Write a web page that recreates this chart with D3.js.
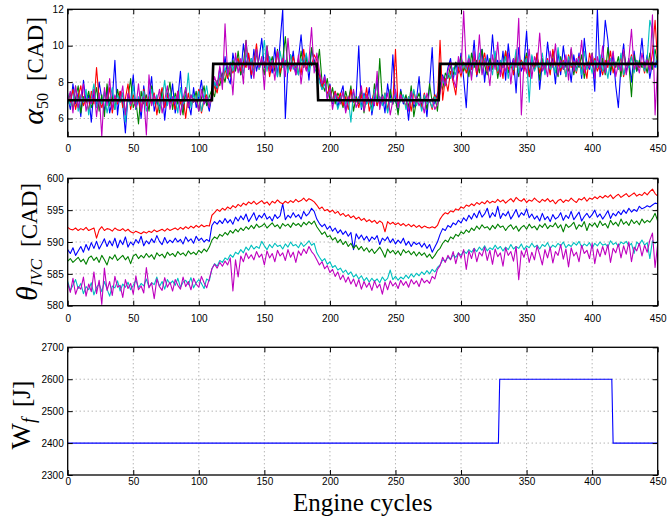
<!DOCTYPE html>
<html><head><meta charset="utf-8">
<script src="https://cdn.jsdelivr.net/npm/d3@7"></script>
<style>body{margin:0;background:#fff}svg{display:block}</style>
</head><body><svg id="c" width="670" height="516"></svg>
<script>
// ---------- data ----------
const cycles = d3.range(0, 451, 2);
const xTicks = [0,50,100,150,200,250,300,350,400,450];
const alphaTicks = [6,8,10,12];
const thetaTicks = [580,585,590,595,600];
const wfTicks = [2300,2400,2500,2600,2700];

const refCycles = [0,110,111,190,191,283,284,450];
const refAlpha  = [7,7,9,9,7,7,9,9];
const wfCycles  = [0,328.5,329.5,415,416,450];
const wfValues  = [2400,2400,2600,2600,2400,2400];

const alphaBlue = [
7.2,6.5,7.9,6.8,7.4,6.1,8.1,6.9,7.3,5.8,
7.6,6.6,8.0,7.1,6.4,7.7,6.3,7.0,9.2,6.2,
7.5,6.8,5.2,7.3,6.9,8.4,6.5,7.1,6.0,7.8,
6.7,7.2,8.3,6.4,7.0,6.6,7.6,5.9,7.4,6.8,
7.9,6.3,7.1,8.6,6.5,7.3,6.9,6.2,7.7,6.6,
7.2,8.1,6.8,7.0,6.4,
7.3,8.0,7.6,8.8,8.1,9.4,8.3,7.9,9.6,8.7,
9.2,8.4,10.1,8.9,9.5,8.2,9.8,8.6,9.3,10.4,
8.8,9.6,9.1,8.5,9.9,8.3,10.2,12.0,6.0,9.0,
8.7,9.7,8.4,9.3,10.6,8.9,9.5,8.1,9.8,9.2,
8.9,8.2,7.6,8.4,7.1,7.9,6.8,7.5,6.6,7.3,
7.8,6.4,7.0,7.6,6.9,7.2,10.0,6.5,7.4,6.8,
7.7,6.2,7.1,8.1,6.7,7.3,6.3,7.9,6.9,9.5,
7.0,6.4,7.6,6.8,7.2,5.9,7.5,6.6,7.0,8.3,
6.5,7.3,6.1,7.8,9.9,6.8,7.4,
7.6,8.4,7.9,8.8,9.3,8.1,9.0,8.5,9.6,8.2,
6.6,9.4,8.7,10.3,8.3,9.1,9.8,8.0,9.5,8.6,
10.6,8.9,9.2,8.4,9.7,8.1,10.1,8.8,9.3,7.4,
9.9,8.6,9.0,10.8,8.3,9.4,8.7,9.6,7.6,9.1,
8.5,10.2,8.9,9.3,7.9,9.7,8.4,10.0,8.8,9.2,
8.0,9.5,8.6,9.6,8.2,10.4,9.0,8.7,9.4,7.5,
12.0,8.3,9.1,11.4,10.3,8.4,9.6,7.8,6.6,8.9,
10.1,8.5,9.3,8.0,9.7,8.6,9.0,10.4,8.7,9.5,
8.2,9.1,8.8,9.4];
const alphaGreen = [
6.8,7.4,6.5,7.1,7.8,6.3,7.2,6.9,7.5,6.6,
7.0,7.7,6.4,7.3,6.1,7.9,6.7,7.2,6.5,7.6,
6.9,7.4,6.2,7.1,8.2,6.6,7.0,5.7,7.5,6.8,
7.3,6.4,7.8,6.9,7.1,6.3,7.6,6.7,7.2,8.0,
6.5,7.4,6.8,7.0,6.2,7.7,6.6,7.3,6.9,7.5,
6.4,7.1,7.8,6.7,7.2,
7.6,7.2,8.1,7.8,8.5,8.0,8.9,8.3,9.2,8.6,
9.7,8.4,9.0,10.3,8.7,9.3,8.5,9.6,8.9,9.1,
8.4,10.0,8.8,9.4,8.6,9.8,8.3,9.2,10.5,8.7,
9.5,8.9,9.0,8.4,9.7,8.8,9.3,8.6,9.9,9.1,
8.7,9.8,8.0,7.5,8.2,7.0,7.7,6.8,7.4,7.1,
6.6,7.5,6.9,7.8,6.4,7.2,6.8,7.6,6.3,7.3,
7.0,6.5,7.9,6.7,9.3,6.9,7.2,6.4,7.6,6.8,
7.1,6.2,7.5,6.9,7.3,6.6,7.8,6.1,7.0,7.4,
6.7,7.2,6.5,7.9,6.9,7.3,6.4,
8.0,7.6,8.5,8.2,8.9,8.4,9.1,8.7,9.4,8.6,
9.0,8.3,9.6,8.8,9.2,8.5,9.8,8.9,8.4,9.3,
8.7,9.5,8.2,9.1,8.8,9.7,8.5,9.0,8.6,9.4,
8.3,9.2,8.9,9.6,8.4,9.0,8.7,9.5,8.1,9.3,
8.8,9.1,8.5,9.7,8.9,8.3,9.4,8.7,9.0,8.6,
9.8,8.4,9.2,8.8,9.5,8.2,9.1,8.9,9.6,8.5,
9.0,8.7,9.3,8.4,9.9,8.6,9.1,8.8,9.4,8.3,
9.7,8.9,9.0,7.2,9.5,8.6,9.2,8.8,9.1,8.5,
9.6,8.7,9.8,9.0];
const alphaRed = [
7.3,6.9,7.6,6.5,7.2,7.8,6.7,7.1,6.4,7.5,
6.8,8.8,7.0,6.6,7.4,6.9,7.7,6.3,7.2,6.8,
7.5,6.6,7.1,7.9,6.5,7.3,6.9,7.0,6.4,7.6,
6.7,7.2,6.8,7.4,6.2,7.1,7.7,6.6,7.3,6.9,
7.0,6.5,7.5,6.8,7.2,6.0,7.4,6.7,7.1,6.9,
7.6,6.3,7.0,7.3,6.8,
7.0,7.8,7.4,8.3,7.9,8.7,8.2,9.0,8.5,8.9,
9.3,8.6,9.1,8.8,9.6,8.4,9.0,10.1,8.7,9.2,
8.9,9.5,8.3,9.1,8.8,9.7,8.5,9.3,8.9,9.0,
8.6,9.4,8.8,9.2,8.4,9.8,8.7,9.1,8.9,9.5,
9.2,8.4,7.7,8.1,7.3,7.8,6.9,7.5,7.0,7.4,
6.7,7.2,6.5,7.6,6.9,7.1,6.6,7.3,6.8,7.7,
6.4,7.0,7.5,6.7,7.2,6.9,7.4,6.5,7.1,6.8,
9.8,6.6,7.3,7.0,6.7,7.2,6.4,7.5,6.9,7.1,
6.6,7.4,6.8,7.0,6.5,7.3,7.0,
10.3,7.0,8.2,7.5,8.6,8.0,7.3,8.8,8.3,9.1,
8.5,9.0,8.7,9.4,8.4,9.2,8.9,9.6,8.6,9.0,
8.8,9.3,8.5,9.1,8.2,9.7,8.7,9.0,8.4,9.5,
8.9,9.2,8.6,9.4,8.3,9.0,8.8,9.6,8.5,9.1,
8.7,9.3,8.4,9.8,8.9,9.0,8.6,9.2,8.3,9.5,
8.8,9.1,8.5,9.4,8.7,9.0,8.2,9.6,8.9,9.3,
8.6,9.0,8.4,9.2,8.8,9.7,8.5,9.1,8.7,9.4,
8.3,9.0,8.9,9.5,8.6,9.2,8.8,9.1,8.5,9.3,
8.7,9.6,11.4,9.0];
const alphaCyan = [
7.4,6.7,7.0,7.8,6.4,7.3,6.9,7.6,6.2,7.1,
7.9,6.6,7.2,6.8,7.5,6.3,7.0,7.7,6.5,7.3,
6.9,7.4,5.8,7.1,6.7,7.8,6.6,7.2,6.9,7.5,
6.4,7.0,7.6,6.8,7.3,6.5,7.1,8.1,6.7,7.4,
6.9,7.2,6.3,7.7,6.8,7.0,8.5,6.6,7.3,6.9,
7.5,6.4,7.1,7.8,6.7,
7.2,8.0,7.7,8.4,8.1,8.8,8.4,9.1,8.6,9.4,
8.9,9.0,8.5,9.6,8.8,9.3,8.4,9.8,8.7,9.1,
10.3,8.6,9.4,8.9,9.0,8.3,9.7,8.8,9.2,8.5,
9.5,8.7,9.0,8.4,9.3,8.9,9.6,8.6,9.1,8.8,
8.5,8.0,7.6,7.9,7.2,7.6,6.9,7.3,6.5,7.0,
7.4,6.8,7.1,5.8,7.5,6.9,7.2,6.6,7.3,6.8,
7.0,6.4,7.6,6.9,7.2,6.7,7.4,6.3,7.1,6.8,
7.5,6.6,7.0,7.3,6.5,7.2,6.9,7.6,6.7,7.1,
6.4,7.3,6.8,7.0,6.6,7.2,6.9,
7.6,8.1,7.8,8.5,8.2,8.8,8.4,9.2,8.6,9.0,
8.7,9.5,8.3,9.1,8.8,9.6,8.5,9.3,8.9,9.0,
8.4,9.7,8.6,9.2,8.8,9.4,8.2,9.0,8.7,9.8,
8.5,9.1,8.9,9.3,6.9,9.5,8.6,9.0,8.8,9.6,
8.4,9.2,8.7,9.0,8.5,9.9,8.8,9.1,8.3,9.4,
8.9,9.0,8.6,9.3,8.4,9.7,8.7,9.1,8.5,9.2,
8.8,9.5,8.6,9.0,8.2,9.3,8.9,9.1,8.7,9.6,
8.4,9.0,8.8,9.4,8.5,9.2,8.9,9.0,8.6,9.3,
11.4,10.8,9.1,8.7];
const alphaMagenta = [
6.9,7.5,6.3,7.8,6.6,7.2,7.9,6.4,7.1,6.8,
7.6,6.1,7.4,5.0,7.7,6.7,8.2,6.5,7.3,6.9,
7.0,7.8,6.2,7.4,6.8,7.1,6.6,7.9,6.4,7.2,
5.1,8.4,6.7,7.3,6.9,7.6,6.3,7.0,7.8,6.5,
7.2,6.8,7.5,6.2,7.1,7.7,6.6,7.3,6.9,7.0,
6.4,7.6,6.8,7.2,6.6,
7.5,8.3,7.8,8.9,7.6,11.2,8.4,9.0,7.3,9.6,
8.5,9.3,7.9,10.3,8.7,9.1,8.2,9.8,8.8,9.4,
7.6,10.0,8.6,9.2,8.1,9.7,8.9,9.3,8.3,10.4,
8.7,9.0,8.4,9.5,7.9,9.1,8.6,9.2,11.0,8.5,
9.6,8.6,7.9,8.3,7.0,7.7,6.5,7.4,7.1,6.8,
7.5,6.3,7.2,6.9,7.6,6.6,7.0,7.8,6.4,7.3,
6.9,7.1,6.7,8.6,6.5,7.2,6.8,7.4,6.2,7.0,
7.6,6.6,7.3,6.9,7.1,6.4,7.5,6.8,7.2,6.7,
7.0,6.3,7.4,6.9,7.1,6.5,6.8,
7.4,8.3,7.8,8.6,9.1,8.2,7.7,9.4,8.5,11.9,
8.8,9.3,8.1,9.7,8.6,10.6,8.4,9.2,8.9,7.8,
9.5,8.7,10.2,8.3,9.0,8.6,9.6,7.9,9.3,8.8,
11.5,6.2,9.1,8.5,9.8,8.2,9.4,8.9,10.7,8.6,
9.0,8.3,9.7,8.8,10.1,8.4,9.2,8.7,9.5,8.1,
9.9,8.6,9.3,8.9,10.3,8.5,9.1,8.8,9.6,8.2,
9.4,8.7,10.0,8.5,9.2,8.9,9.7,8.3,9.0,8.6,
9.8,8.4,9.3,10.9,8.7,9.1,8.5,9.6,8.8,9.2,
8.6,11.7,6.2,9.0];

const thetaRed = [
592.3,592.0,591.9,592.2,591.8,592.1,591.9,592.3,591.8,592.0,
592.2,590.6,591.9,592.4,591.8,592.1,592.0,591.7,592.2,591.9,
591.8,592.1,591.7,592.0,591.6,591.4,591.7,591.5,591.3,591.6,
591.4,591.7,591.5,591.9,591.6,591.8,592.0,591.7,592.1,591.8,
592.0,592.2,591.9,592.3,592.0,592.4,592.1,592.5,592.2,592.6,
592.3,592.7,592.4,592.6,592.5,
594.2,594.6,595.1,594.8,595.3,595.0,595.5,595.2,595.7,595.4,
595.9,595.6,596.1,595.8,596.3,596.0,596.4,595.9,596.2,596.5,
596.0,596.3,595.8,596.4,596.1,596.6,596.2,596.0,596.4,596.1,
596.5,596.2,596.7,596.3,596.5,596.9,596.4,596.8,596.6,596.3,
595.8,595.2,595.5,594.9,595.1,594.7,595.0,594.5,594.8,594.2,
594.5,594.0,594.3,593.8,594.1,593.6,593.9,593.4,593.7,593.2,
593.5,593.1,593.4,592.9,593.3,593.0,591.6,593.2,592.8,593.1,
592.7,593.0,592.6,592.9,592.5,592.8,592.4,592.7,592.3,592.6,
592.2,592.5,592.3,592.2,592.4,592.2,592.6,
593.6,594.2,594.6,594.4,594.9,594.7,595.2,595.0,595.5,595.3,
595.8,595.6,596.0,595.7,596.2,595.9,596.3,596.0,596.5,596.1,
596.4,596.2,596.7,596.3,596.6,596.1,596.5,596.8,596.3,597.0,
596.6,596.4,596.8,596.2,596.6,596.4,596.9,596.5,596.2,596.7,
596.4,596.8,596.3,596.6,596.0,596.5,596.7,596.2,596.6,596.4,
596.9,596.5,596.2,596.8,596.6,597.0,596.4,596.9,596.7,597.1,
596.8,597.2,596.9,597.3,597.0,597.4,596.8,597.2,597.5,597.0,
597.3,597.6,597.1,597.4,597.7,597.2,597.5,597.3,597.8,597.4,
597.9,598.3,597.6,597.2];
const thetaBlue = [
588.8,588.2,589.1,587.9,588.6,589.3,588.4,589.6,588.7,589.9,
589.0,590.1,588.9,589.7,590.5,589.3,590.2,589.4,590.6,589.1,
590.3,589.6,590.8,589.2,590.0,589.5,590.4,589.8,590.9,589.4,
590.2,589.7,590.5,589.9,591.0,590.1,589.6,590.7,589.8,590.3,
589.9,590.6,590.0,590.4,589.7,590.8,590.1,590.5,589.8,590.9,
590.2,590.6,590.0,590.4,590.1,
592.6,593.2,592.8,593.4,592.9,593.7,593.0,593.5,592.8,593.9,
593.3,594.1,593.5,594.4,593.2,593.9,594.6,593.4,594.2,593.8,
594.5,593.6,594.0,593.3,594.3,593.7,594.1,596.0,593.5,594.2,
593.8,594.6,593.9,594.3,593.6,594.8,594.1,594.5,595.3,594.8,
593.6,592.9,592.4,592.8,592.0,592.5,591.7,592.2,591.4,591.9,
591.2,591.7,590.9,591.5,588.8,591.3,590.5,591.1,590.3,590.9,
590.1,590.8,590.4,591.0,589.6,590.6,590.2,590.8,589.9,590.5,
589.7,590.3,589.8,590.6,589.5,590.1,589.3,590.0,589.6,589.9,
589.2,589.8,589.0,589.6,588.4,589.2,590.0,
591.2,592.1,591.8,592.6,592.3,593.0,592.7,593.4,593.0,593.8,
593.3,594.2,593.6,594.5,593.8,594.9,593.9,594.4,595.3,593.8,
594.6,594.0,595.6,593.7,594.5,594.1,594.8,593.6,594.3,595.1,
593.9,594.6,594.2,595.2,593.8,594.4,593.6,594.1,593.3,594.5,
593.5,594.0,593.2,594.3,593.6,593.9,594.6,593.4,594.2,593.7,
594.8,593.5,594.1,594.7,593.3,594.0,594.5,593.8,594.3,595.0,
593.9,594.4,593.6,594.2,594.9,593.7,594.5,594.1,594.8,594.3,
595.0,594.5,595.3,594.7,595.1,594.8,595.6,595.2,595.4,595.7,
595.5,595.8,596.1,596.0];
const thetaGreen = [
587.0,587.4,586.8,587.2,587.6,586.9,587.3,586.5,587.5,587.8,
587.1,587.6,586.8,587.9,587.2,586.4,587.7,587.3,588.0,587.1,
587.5,587.9,587.2,587.7,586.6,587.8,588.1,587.4,587.9,587.5,
588.2,587.6,588.0,587.3,588.3,587.8,588.1,587.5,588.4,587.9,
588.2,587.7,588.5,588.0,588.3,587.8,588.6,588.1,588.4,588.0,
588.7,588.3,588.9,588.5,589.2,
590.3,590.8,590.5,591.2,590.9,591.5,591.1,591.8,591.4,592.0,
591.6,592.2,591.8,592.4,592.0,592.6,592.1,592.8,592.3,592.5,
592.9,592.2,592.6,593.0,592.4,592.7,592.1,592.9,592.5,592.8,
592.3,593.0,592.6,592.9,592.4,593.1,592.7,593.2,592.8,593.3,
592.4,591.8,591.2,591.6,590.8,591.0,590.3,590.7,589.9,590.4,
589.6,590.1,589.3,589.8,589.0,589.5,588.8,589.3,588.6,589.1,
588.4,588.9,588.2,588.7,589.2,588.5,587.6,588.9,588.3,588.7,
588.1,588.6,587.9,588.8,588.3,588.6,588.0,588.5,587.8,588.4,
587.9,588.3,587.6,588.1,587.4,587.9,588.6,
589.0,589.8,590.3,590.0,590.8,590.5,591.2,590.9,591.6,591.3,
591.9,591.5,592.2,591.8,592.5,592.0,592.7,592.2,592.4,591.9,
592.6,592.1,592.8,592.3,592.5,591.8,592.4,592.7,592.0,592.5,
591.7,592.3,592.6,592.0,592.8,592.2,592.5,591.9,592.7,592.3,
592.9,592.1,592.6,592.4,593.0,592.2,592.7,591.6,592.8,592.3,
592.6,593.1,592.0,592.7,592.4,593.2,591.8,592.9,592.5,593.0,
592.3,593.3,592.6,592.9,592.2,593.4,592.7,593.1,592.5,593.6,
592.8,593.2,592.6,593.5,592.9,593.3,592.7,593.6,593.0,593.4,
593.1,593.7,594.5,593.3];
const thetaCyan = [
583.8,582.4,583.2,584.1,582.7,583.5,581.9,583.0,582.5,583.6,
581.7,582.9,583.4,582.2,583.8,582.6,581.5,583.1,582.8,583.9,
582.3,583.4,582.9,583.7,582.5,583.2,584.0,582.8,583.5,583.1,
584.2,582.9,583.6,583.3,584.5,583.0,583.8,582.6,584.1,583.4,
583.9,583.2,584.3,582.9,583.7,584.0,583.3,584.4,582.8,583.6,
584.1,583.5,582.7,584.2,583.9,
585.8,586.6,586.2,587.1,586.8,587.5,587.2,588.0,587.6,588.4,
588.1,588.8,588.3,589.2,588.7,589.5,588.9,589.3,589.0,590.1,
589.4,588.8,589.6,589.1,589.8,589.3,589.5,588.9,589.7,589.2,
590.0,589.4,589.6,589.1,589.9,589.3,589.7,590.2,589.5,589.8,
588.3,587.6,587.0,587.4,586.5,586.9,586.0,586.3,585.6,585.9,
585.2,585.6,584.9,585.3,584.5,584.9,584.2,584.7,583.9,584.4,
583.7,584.3,583.8,584.2,583.6,584.5,583.9,584.3,585.6,584.1,
584.6,584.0,584.5,584.2,584.8,584.3,585.0,584.5,585.1,584.7,
585.3,584.9,585.5,585.0,585.7,585.3,586.0,
586.4,587.2,587.0,587.6,587.3,588.0,587.6,588.3,587.9,588.6,
588.2,588.8,588.4,589.0,588.5,589.2,588.7,589.4,588.6,589.1,
588.8,589.5,588.9,589.3,588.6,589.2,588.8,589.6,588.9,589.3,
589.0,589.7,588.8,589.4,589.1,589.8,589.2,589.5,588.9,589.6,
589.3,589.9,589.0,589.5,589.2,589.8,589.4,590.0,589.1,589.6,
589.3,589.9,589.5,590.1,589.2,589.7,589.4,589.9,589.0,589.8,
589.4,590.0,589.5,589.7,589.2,590.2,589.6,589.9,589.3,590.0,
589.7,590.1,589.4,589.8,588.2,590.0,589.6,590.3,589.5,589.9,
587.4,590.2,589.8,590.1];
const thetaMagenta = [
583.5,582.1,584.3,581.8,583.0,582.6,584.5,581.5,583.4,582.2,
585.3,581.9,584.0,580.2,585.9,582.4,583.8,581.6,584.6,582.9,
583.2,581.3,584.1,582.7,583.5,581.8,584.7,582.5,583.1,582.0,
586.0,582.8,583.6,581.1,584.2,583.0,582.4,584.4,582.9,583.7,
582.3,584.1,583.2,582.6,584.5,583.0,583.8,582.5,584.3,583.4,
582.9,584.6,583.6,582.8,584.2,
585.8,586.5,585.9,586.8,586.2,587.0,586.4,587.5,582.3,587.2,
584.5,587.8,586.9,588.3,587.4,588.0,587.2,588.5,587.6,588.1,
586.4,588.6,587.5,588.2,586.9,588.7,587.8,588.3,587.1,588.8,
587.6,588.4,586.8,588.6,587.9,588.9,588.2,589.3,588.5,588.0,
587.2,586.4,586.9,585.8,586.3,585.2,585.7,584.6,585.3,584.1,
584.8,583.7,584.5,583.4,584.2,583.0,584.1,582.6,583.8,582.9,
583.6,582.4,583.9,582.8,583.4,581.8,583.7,582.5,583.9,583.1,
583.6,582.7,584.0,583.2,583.8,582.9,584.1,583.4,583.9,583.0,
584.3,583.6,584.0,583.5,584.6,584.2,585.7,
586.3,587.6,586.8,587.9,587.2,588.5,586.6,588.3,587.5,588.8,
585.7,588.6,587.4,589.0,586.9,588.4,587.8,589.2,587.1,588.7,
586.5,588.9,587.7,588.3,586.2,589.1,587.9,588.5,587.0,589.3,
584.1,588.6,587.6,589.0,586.8,588.4,587.2,589.4,588.0,586.4,
588.8,587.5,589.2,586.7,588.5,587.9,589.6,587.3,588.9,586.1,
589.1,587.8,588.4,586.9,589.5,588.2,588.7,587.4,589.8,586.6,
588.9,587.7,589.3,588.0,589.6,586.8,589.0,588.3,589.7,587.5,
589.4,588.1,590.0,586.9,589.2,588.6,589.8,587.8,589.5,588.4,
590.3,591.4,586.0,589.7];

const seriesColors = ["#0000ff","#008000","#ff0000","#00bfbf","#bf00bf"];
const alphaSeries = [alphaBlue, alphaGreen, alphaRed, alphaCyan, alphaMagenta];
const thetaSeries = [thetaBlue, thetaGreen, thetaRed, thetaCyan, thetaMagenta];

// ---------- drawing ----------
const svg = d3.select("#c");
const X0 = 67.7, X1 = 657.7;
const x = d3.scaleLinear().domain([0,450]).range([X0, X1]);
const tickFont = "'DejaVu Sans', Arial, sans-serif";
const serif = "'Liberation Serif', 'Times New Roman', serif";

function panel(id, top, bottom, domain, ticks) {
  const y = d3.scaleLinear().domain(domain).range([bottom, top]);
  const g = svg.append("g");
  g.append("clipPath").attr("id", id).append("rect")
    .attr("x", X0).attr("y", top).attr("width", X1 - X0).attr("height", bottom - top);
  const grid = g.append("g").attr("stroke", "#7a7a7a").attr("stroke-width", 0.8)
    .attr("stroke-dasharray", "1,3");
  grid.selectAll("line.vx").data(xTicks.slice(1, -1)).join("line")
    .attr("x1", d => x(d)).attr("x2", d => x(d)).attr("y1", top).attr("y2", bottom);
  grid.selectAll("line.hy").data(ticks.filter(t => t > domain[0] && t < domain[1])).join("line")
    .attr("y1", d => y(d)).attr("y2", d => y(d)).attr("x1", X0).attr("x2", X1);
  const plot = g.append("g").attr("clip-path", `url(#${id})`);
  return {g, y, plot, top, bottom};
}

function frame(p, ticks, xPad) {
  const {g, y, top, bottom} = p;
  const ax = g.append("g").attr("font-family", tickFont).attr("font-size", 10.5);
  ax.append("g").attr("transform", `translate(0,${bottom})`)
    .call(d3.axisBottom(x).tickValues(xTicks).tickSize(-5).tickSizeOuter(0).tickPadding(xPad).tickFormat(d3.format("d")));
  ax.append("g").attr("transform", `translate(0,${top})`)
    .call(d3.axisTop(x).tickValues(xTicks).tickSize(-5).tickSizeOuter(0).tickFormat(""));
  ax.append("g").attr("transform", `translate(${X0},0)`)
    .call(d3.axisLeft(y).tickValues(ticks).tickSize(-5).tickSizeOuter(0).tickPadding(4).tickFormat(d3.format("d")));
  ax.append("g").attr("transform", `translate(${X1},0)`)
    .call(d3.axisRight(y).tickValues(ticks).tickSize(-5).tickSizeOuter(0).tickFormat(""));
  ax.selectAll(".domain").remove();
  ax.selectAll(".tick line").attr("stroke", "#000").attr("stroke-width", 1);
  ax.selectAll(".tick text").attr("fill", "#000");
  g.append("rect").attr("x", X0).attr("y", top).attr("width", X1 - X0).attr("height", bottom - top)
    .attr("fill", "none").attr("stroke", "#000").attr("stroke-width", 1.3);
}

// Panel 1: alpha50
const p1 = panel("clip1", 9.3, 136.7, [5,12], alphaTicks);
const line1 = d3.line().x((d,i) => x(cycles[i])).y(d => p1.y(d));
alphaSeries.forEach((s, k) => {
  p1.plot.append("path").datum(s).attr("d", line1).attr("fill", "none")
    .attr("stroke", seriesColors[k]).attr("stroke-width", 1.1).attr("stroke-linejoin", "round");
});
p1.plot.append("path").datum(refAlpha)
  .attr("d", d3.line().x((d,i) => x(refCycles[i])).y(d => p1.y(d)))
  .attr("fill", "none").attr("stroke", "#000").attr("stroke-width", 2.6);
frame(p1, alphaTicks, 8);

// Panel 2: theta_IVC
const p2 = panel("clip2", 178.3, 305.7, [580,600], thetaTicks);
const line2 = d3.line().x((d,i) => x(cycles[i])).y(d => p2.y(d));
thetaSeries.forEach((s, k) => {
  p2.plot.append("path").datum(s).attr("d", line2).attr("fill", "none")
    .attr("stroke", seriesColors[k]).attr("stroke-width", 1.1).attr("stroke-linejoin", "round");
});
frame(p2, thetaTicks, 9);

// Panel 3: W_f
const p3 = panel("clip3", 347.3, 475, [2300,2700], wfTicks);
p3.plot.append("path").datum(wfValues)
  .attr("d", d3.line().x((d,i) => x(wfCycles[i])).y(d => p3.y(d)))
  .attr("fill", "none").attr("stroke", "#0000ff").attr("stroke-width", 1.1);
frame(p3, wfTicks, 3);

// Y labels
function ylabel(cx, cy, parts) {
  const t = svg.append("text").attr("transform", `translate(${cx},${cy}) rotate(-90)`)
    .attr("text-anchor", "middle").attr("font-family", serif).attr("fill", "#000");
  parts.forEach(p => {
    const s = t.append("tspan").text(p.t).attr("font-size", p.s);
    if (p.i) s.attr("font-style", "italic");
    if (p.dy) s.attr("dy", p.dy);
    if (p.dx) s.attr("dx", p.dx);
  });
}
ylabel(43, 71, [{t:"α", s:30, i:true},{t:"50", s:16, dy:5},{t:"[CAD]", s:23, dy:-5, dx:12}]);
ylabel(37, 242, [{t:"θ", s:30, i:true},{t:"IVC", s:17, i:true, dy:5},{t:"[CAD]", s:23, dy:-5, dx:12}]);
ylabel(30, 415, [{t:"W", s:28},{t:"f", s:18, i:true, dy:5},{t:"[J]", s:25, dy:-5, dx:11}]);

// X label
svg.append("text").attr("x", (X0 + X1) / 2).attr("y", 511).attr("text-anchor", "middle")
  .attr("font-family", serif).attr("font-size", 25).attr("fill", "#000").text("Engine cycles");
</script></body></html>
